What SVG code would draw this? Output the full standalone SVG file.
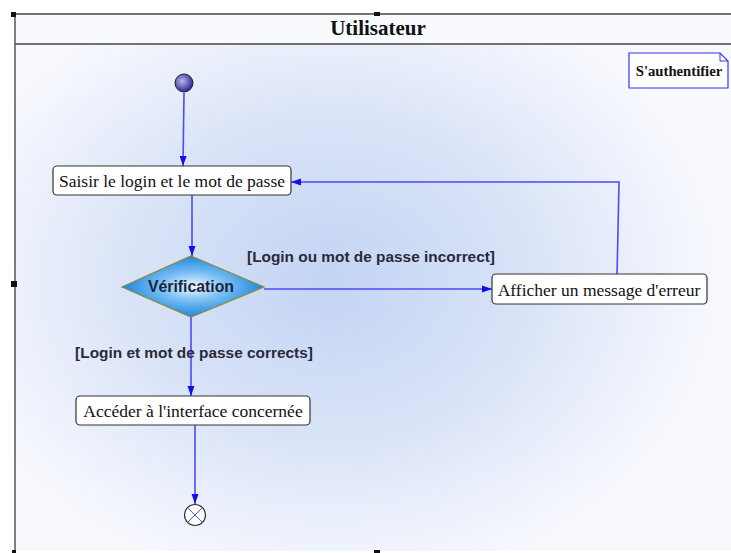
<svg xmlns="http://www.w3.org/2000/svg" width="731" height="553" viewBox="0 0 731 553">
<defs>
<radialGradient id="bg" cx="330" cy="280" r="390" gradientUnits="userSpaceOnUse" gradientTransform="translate(330 280) scale(1 0.8) translate(-330 -280)">
<stop offset="0" stop-color="#c3d4f4"/>
<stop offset="0.5" stop-color="#d9e3f7"/>
<stop offset="1" stop-color="#f8f9fe"/>
</radialGradient>
<radialGradient id="dia" cx="0.5" cy="0.5" r="0.5">
<stop offset="0" stop-color="#f2f8ff"/>
<stop offset="0.45" stop-color="#7cc0f4"/>
<stop offset="1" stop-color="#1f86e0"/>
</radialGradient>
<radialGradient id="init" cx="0.4" cy="0.4" r="0.6">
<stop offset="0" stop-color="#b8b8e8"/>
<stop offset="1" stop-color="#2a2a9a"/>
</radialGradient>
<marker id="arr" viewBox="0 0 10 10" refX="10" refY="5" markerWidth="10" markerHeight="10" markerUnits="userSpaceOnUse" orient="auto">
<path d="M0,1.5 L10,5 L0,8.5 Z" fill="#1010ee"/>
</marker>
<style>
.box{fill:#ffffff;stroke:#333333;stroke-width:1.2}
.lbl{font-family:"Liberation Serif",serif;font-size:17.5px;fill:#111}
.cond{font-family:"Liberation Sans",Arial,sans-serif;font-size:15.4px;font-weight:bold;fill:#2a2a3a}
.edge{fill:none;stroke:#4a4aff;stroke-width:1.6}
</style>
</defs>
<rect x="0" y="0" width="731" height="553" fill="#ffffff"/>
<rect x="15" y="45" width="716" height="506" fill="url(#bg)"/>
<rect x="15" y="15" width="716" height="30" fill="#f9fafe"/>
<g id="lane">
<line x1="15" y1="14" x2="731" y2="14" stroke="#444" stroke-width="1.5"/>
<line x1="15" y1="44" x2="731" y2="44" stroke="#444" stroke-width="1.5"/>
<line x1="15" y1="14" x2="15" y2="552" stroke="#555" stroke-width="1.5"/>
<text x="378" y="35" text-anchor="middle" font-family="Liberation Serif,serif" font-size="21" font-weight="bold" fill="#111">Utilisateur</text>
<rect x="11" y="12" width="5" height="5" fill="#111"/>
<rect x="374" y="12" width="6" height="4" fill="#111"/>
<rect x="11" y="281" width="6" height="6" fill="#111"/>
<rect x="374" y="550" width="6" height="3" fill="#111"/>
<rect x="12" y="550" width="4" height="3" fill="#111"/>
</g>
<g id="note">
<path d="M629,53 H720 L728,61 V88 H629 Z" fill="#ffffff" stroke="#3333ff" stroke-width="1.2"/>
<path d="M720,53 V61 H728" fill="none" stroke="#3333ff" stroke-width="1"/>
<text x="679" y="76" text-anchor="middle" font-family="Liberation Serif,serif" font-size="14.7" font-weight="bold" fill="#111">S'authentifier</text>
</g>
<g id="connectors">
<line class="edge" x1="184" y1="93" x2="183" y2="166" marker-end="url(#arr)"/>
<line class="edge" x1="192" y1="195" x2="192" y2="256" marker-end="url(#arr)"/>
<line class="edge" x1="264" y1="289" x2="492" y2="289" marker-end="url(#arr)"/>
<polyline class="edge" points="617,274 618,230 619,182 291,182" marker-end="url(#arr)"/>
<line class="edge" x1="191" y1="317" x2="191" y2="396" marker-end="url(#arr)"/>
<line class="edge" x1="195" y1="425" x2="195" y2="504" marker-end="url(#arr)"/>
</g>
<g id="start">
<circle cx="184" cy="83" r="9" fill="url(#init)" stroke="#222" stroke-width="1"/>
</g>
<g id="saisir">
<rect class="box" x="53" y="166" width="238" height="29" rx="4"/>
<text class="lbl" x="172" y="186.5" text-anchor="middle">Saisir le login et le mot de passe</text>
</g>
<g id="verification">
<polygon points="191,256 264,287 191,317 122,287" fill="url(#dia)" stroke="#8a8a3a" stroke-width="1.2"/>
<text x="191" y="292" text-anchor="middle" font-family="Liberation Sans,Arial,sans-serif" font-size="15.8" font-weight="bold" fill="#1a2540">Vérification</text>
</g>
<g id="erreur">
<rect class="box" x="492" y="274" width="215" height="30" rx="4"/>
<text class="lbl" x="599" y="295.5" text-anchor="middle">Afficher un message d'erreur</text>
</g>
<g id="acceder">
<rect class="box" x="76" y="396" width="234" height="29" rx="4"/>
<text class="lbl" x="193" y="416.5" text-anchor="middle">Accéder à l'interface concernée</text>
</g>
<g id="end">
<circle cx="195" cy="515" r="10.5" fill="#ffffff" stroke="#333" stroke-width="1.2"/>
<path d="M187.6,507.6 L202.4,522.4 M202.4,507.6 L187.6,522.4" stroke="#5555dd" stroke-width="1"/>
</g>
<text class="cond" x="371" y="262" text-anchor="middle">[Login ou mot de passe incorrect]</text>
<text class="cond" x="194" y="358" text-anchor="middle">[Login et mot de passe corrects]</text>
</svg>
